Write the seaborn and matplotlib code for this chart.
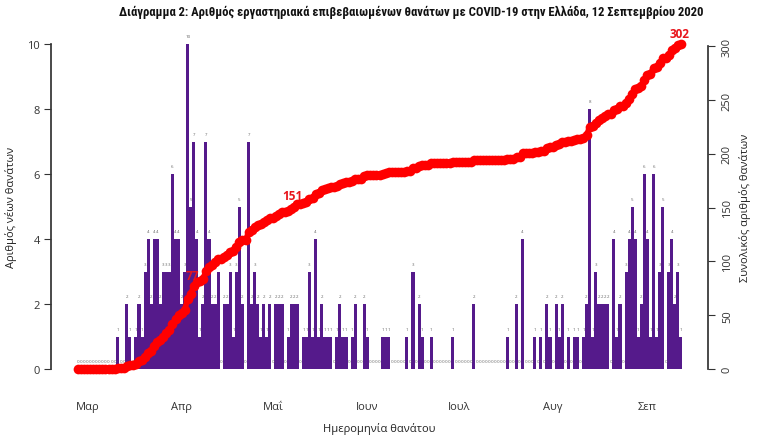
import numpy as np
import pandas as pd
import matplotlib
matplotlib.use("Agg")
import matplotlib.pyplot as plt
import seaborn as sns

# ---------------- data ----------------
start_date = "2020-02-27"
lead_zeros = [0] * 13
deaths_mar_apr = [1, 0, 0, 2, 1, 0, 1, 2, 1, 3, 4, 2, 4, 4, 2, 3, 3, 3, 6, 4,
                  4, 2, 3, 10, 5, 7, 4, 1, 2, 7, 4, 2, 2, 3, 0, 2, 2, 3, 1, 3,
                  5, 2, 0, 7, 2, 3, 2, 1, 2, 1, 2]
deaths_may_jun = [0, 2, 2, 2, 0, 1, 2, 2, 2, 0, 1,
                  1, 3, 1, 4, 1, 2, 1, 1, 1, 0,
                  1, 2, 1, 1, 0, 1, 2, 0, 0, 2,
                  1, 0, 0, 0, 0, 1, 1, 1, 0, 0,
                  0, 0, 0]
deaths_jun_aug = [1, 0, 3, 0, 2, 1, 0, 0, 1, 0,
                  0, 0, 0, 0, 0, 1, 0, 0, 0, 0,
                  0, 0, 2, 0, 0, 0, 0, 0, 0, 0,
                  0, 0, 0, 1, 0, 0, 2, 0, 4, 0,
                  0, 0, 1, 0, 1, 0, 2, 1, 0, 2,
                  1, 2, 0, 1, 0, 1, 1, 0, 1, 2]
deaths_aug_sep = [8, 1, 3, 2, 2, 2, 2, 0, 4, 1, 2, 0, 3, 4, 5, 4, 1, 2, 6, 4,
                  1, 6, 1, 3, 5, 0, 3, 4, 2, 3, 1]
daily_deaths = lead_zeros + deaths_mar_apr + deaths_may_jun + deaths_jun_aug + deaths_aug_sep

month_starts = ["2020-03-01", "2020-04-01", "2020-05-01", "2020-06-01",
                "2020-07-01", "2020-08-01", "2020-09-01"]
month_labels = ["Μαρ", "Απρ", "Μαΐ", "Ιουν", "Ιουλ", "Αυγ", "Σεπ"]
left_ticks = [0, 2, 4, 6, 8, 10]
right_ticks = [0, 50, 100, 150, 200, 250, 300]
highlight_totals = [77, 151, 302]

title = ("Διάγραμμα 2: Αριθμός εργαστηριακά επιβεβαιωμένων θανάτων με COVID-19 "
         "στην Ελλάδα, 12 Σεπτεμβρίου 2020")
xlabel = "Ημερομηνία θανάτου"
ylabel_left = "Αριθμός νέων θανάτων"
ylabel_right = "Συνολικός αριθμός θανάτων"

# ---------------- frame ----------------
dates = pd.date_range(start_date, periods=len(daily_deaths), freq="D")
day_idx = np.arange(len(daily_deaths))
cumulative = np.cumsum(daily_deaths)
df = pd.DataFrame({"day": day_idx, "deaths": daily_deaths, "cum": cumulative})
t0 = pd.Timestamp(start_date)
month_pos = [(pd.Timestamp(m) - t0).days for m in month_starts]

sns.set_theme(style="white")
plt.rcParams["font.family"] = ["Open Sans", "DejaVu Sans"]

PURPLE = "#551A8B"
fig = plt.figure(figsize=(7.65, 4.39), dpi=100)
ax = fig.add_axes([51 / 765, 1 - 383 / 439, (708 - 51) / 765, (383 - 32) / 439])

sns.barplot(data=df, x="day", y="deaths", native_scale=True, width=1.0,
            color=PURPLE, saturation=1, linewidth=0, ax=ax)
ax.set_xlim(-8.9, 206.9)
ax.set_ylim(-0.4, 10.4)

for d, v in zip(day_idx, daily_deaths):
    ax.text(d, v + 0.24, str(v), ha="center", va="center", fontsize=3.2,
            color="#666666")

cmax = float(cumulative.max())
ax2 = ax.twinx()
sns.lineplot(data=df, x="day", y="cum", ax=ax2, color="#ff0000", linewidth=4,
             marker="o", markersize=7, markeredgewidth=0)
ax2.set_ylim(-0.04 * cmax, 1.04 * cmax)
ax2.set_xlim(-8.9, 206.9)

for tot in highlight_totals:
    i = int(np.argmax(cumulative >= tot))
    ax2.text(day_idx[i] - 0.6, cumulative[i] + 0.033 * cmax, str(tot),
             color="#e8141b", fontsize=8.5, fontweight="bold",
             ha="center", va="center")

# axes styling (R-like)
for a in (ax, ax2):
    for s in a.spines.values():
        s.set_visible(False)
ax.spines["left"].set_visible(True)
ax.spines["left"].set_bounds(0, 10)
ax.spines["left"].set_color("#333333")
ax2.spines["right"].set_visible(True)
ax2.spines["right"].set_bounds(0, 300)
ax2.spines["right"].set_color("#333333")

ax.set_yticks(left_ticks)
ax.set_yticklabels([str(t) for t in left_ticks])
ax.set_xticks(month_pos)
ax.set_xticklabels(month_labels)
ax.tick_params(axis="y", left=True, length=5, width=0.8, pad=3, labelsize=8,
               colors="#333333")
ax.tick_params(axis="x", bottom=False, length=0, pad=14, labelsize=8,
               colors="#333333")
ax2.set_yticks(right_ticks)
ax2.set_yticklabels([str(t) for t in right_ticks], rotation=90, va="center")
ax2.tick_params(axis="y", right=True, length=5, width=0.8, pad=5, labelsize=8,
                colors="#333333")

ax.set_xlabel(xlabel, fontsize=8, color="#222222")
ax.set_ylabel(ylabel_left, fontsize=8, color="#222222")
ax2.set_ylabel(ylabel_right, fontsize=8, color="#222222", rotation=90)
ax2.yaxis.set_label_coords(1.047, 0.5)
ax.yaxis.set_label_coords(-0.052, 0.5)
ax.xaxis.set_label_coords(0.5, -0.115)
ax.grid(False)
ax2.grid(False)

fig.text(411 / 765, 1 - 12 / 439, title, ha="center", va="center",
         fontsize=9.1, fontweight="bold",
         family=["Roboto Condensed", "Roboto", "DejaVu Sans"], color="#111111")

fig.savefig("out.png", dpi=100, facecolor="white")
